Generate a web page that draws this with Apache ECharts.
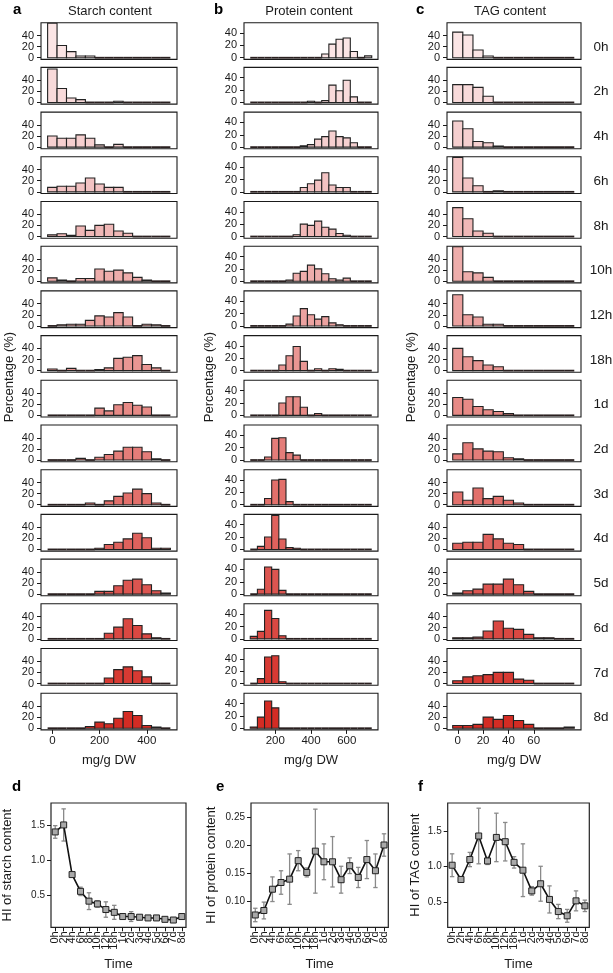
<!DOCTYPE html>
<html><head><meta charset="utf-8">
<script src="https://cdn.jsdelivr.net/npm/echarts@6/dist/echarts.min.js"></script>
<style>html,body{margin:0;padding:0;background:#fff}#c{width:613px;height:973px}</style>
</head><body><div id="c"></div><script>
// ---------- DATA ----------
const timeLabels = ['0h','2h','4h','6h','8h','10h','12h','18h','1d','2d','3d','4d','5d','6d','7d','8d'];
const rowFills = ['#fbe5e5','#f8dada','#f5cfcf','#f3c3c3','#f0b8b7','#eeadab','#eca2a0','#e99693',
                  '#e78a86','#e47d79','#e2706b','#df625d','#dc5550','#da4842','#d73a33','#d42c24'];

const starchBins = [0,40,80,120,160,200,240,280,320,360,400,440,480];
const starchHist = [
 [62,22,11,3,3,0,0,0,0,0,0,0,0],
 [60,25,8,5,0,0,0,2,0,0,0,0,0],
 [20,16,16,22,16,4,1,5,0,0,0,0,0],
 [8,10,10,16,25,14,8,8,0,0,0,0,0],
 [3,5,2,19,11,20,22,10,6,0,0,0,0],
 [6,2,0,5,5,22,18,20,15,7,2,1,1],
 [0,2,3,3,10,18,16,24,16,1,3,2,0],
 [3,0,4,0,0,2,5,22,24,27,11,5,0],
 [0,0,0,0,0,13,8,19,23,18,15,1,0],
 [0,0,0,3,0,5,10,16,23,23,15,2,0],
 [0,0,0,0,3,0,7,15,21,28,20,3,0],
 [0,0,0,0,1,2,9,13,19,29,21,2,2],
 [0,0,0,0,0,5,5,15,25,27,17,6,2],
 [0,0,0,0,0,1,10,21,36,24,9,2,0],
 [0,0,0,0,0,0,10,25,30,23,12,0,0],
 [0,0,0,0,3,11,8,18,30,23,5,2,0]
];

const proteinBins = [80,120,160,200,240,280,320,360,400,440,480,520,560,600,640,680,720];
const proteinHist = [
 [0,0,0,0,0,0,0,0,0,0,6,22,30,32,10,0,3],
 [0,0,0,0,0,0,0,0,2,0,3,28,19,36,9,0,0],
 [0,0,0,0,0,0,0,2,4,13,17,26,17,15,7,0,0],
 [0,0,0,0,0,0,1,7,13,19,31,11,7,7,0,0,0],
 [0,0,0,0,0,0,3,20,18,25,15,12,5,2,0,0,0],
 [0,0,0,0,0,2,13,16,26,20,12,4,2,5,0,0,0],
 [0,0,0,0,0,3,16,28,18,11,15,5,2,0,0,0,0],
 [0,0,0,0,9,24,39,15,1,3,1,3,2,0,0,0,0],
 [0,0,1,1,20,30,30,13,0,3,0,0,0,0,0,0,0],
 [0,1,5,35,36,12,8,0,0,0,0,0,0,0,0,0,0],
 [0,1,10,40,41,5,1,0,0,0,0,0,0,0,0,0,0],
 [0,5,20,55,17,3,2,0,0,0,0,0,0,0,0,0,0],
 [0,8,44,40,6,0,0,0,0,0,0,0,0,0,0,0,0],
 [4,12,46,33,5,0,0,0,0,0,0,0,0,0,0,0,0],
 [1,8,43,45,3,0,0,0,0,0,0,0,0,0,0,0,0],
 [2,18,44,33,1,0,0,0,0,0,0,0,0,0,0,0,0]
];

const tagBins = [0,8,16,24,32,40,48,56,64,72,80,88];
const tagHist = [
 [46,41,14,3,0,0,0,0,0,0,0,0],
 [32,32,27,11,0,0,0,0,0,0,0,0],
 [47,33,10,8,2,0,0,0,0,0,0,0],
 [62,25,11,0,2,0,0,0,0,0,0,0],
 [52,32,10,6,0,0,0,0,0,0,0,0],
 [62,17,15,7,1,0,0,0,0,0,0,0],
 [56,20,16,3,3,0,0,0,0,0,0,0],
 [40,25,18,10,7,0,0,0,0,0,0,0],
 [32,29,16,10,7,3,0,0,0,0,0,0],
 [11,31,20,16,15,4,2,0,0,0,0,0],
 [23,8,30,11,15,8,3,0,0,0,0,0],
 [11,13,13,27,19,11,9,0,0,0,0,0],
 [2,6,9,18,18,27,17,5,0,0,0,0],
 [2,2,3,14,32,19,17,8,2,2,1,0],
 [5,12,14,16,20,20,8,6,0,0,0,0],
 [5,5,7,20,16,23,14,7,0,0,0,2]
];

const starchHI = [1.40,1.50,0.79,0.55,0.41,0.37,0.29,0.25,0.19,0.19,0.18,0.17,0.17,0.15,0.14,0.19];
const starchSD = [0.09,0.23,0.03,0.06,0.12,0.045,0.11,0.10,0.025,0.07,0.02,0.015,0.015,0.015,0.015,0.02];
const proteinHI = [0.075,0.083,0.121,0.133,0.139,0.172,0.151,0.189,0.170,0.170,0.138,0.163,0.142,0.174,0.154,0.200];
const proteinSD = [0.012,0.015,0.022,0.021,0.045,0.018,0.008,0.075,0.032,0.045,0.024,0.014,0.018,0.034,0.030,0.020];
const tagHI = [1.02,0.82,1.10,1.43,1.08,1.41,1.35,1.06,0.95,0.66,0.76,0.54,0.37,0.31,0.52,0.45];
const tagSD = [0.16,0.04,0.10,0.39,0.05,0.34,0.27,0.08,0.37,0.06,0.245,0.19,0.10,0.09,0.14,0.08];

// ---------- LAYOUT / STYLE ----------
const FONT = '"Liberation Sans", Arial, Helvetica, sans-serif';
const INK = '#1a1a1a';
const chart = echarts.init(document.getElementById('c'), null, {renderer:'canvas', width:613, height:973});

const cols = [
  {bins:starchBins, hist:starchHist, binW:40, xmin:-48, xmax:528, ymin:-3, ymax:63, left:41, width:136,
   xticks:[0,200,400], title:'Starch content', titleX:110, letter:'a', letterX:13, pctX:9},
  {bins:proteinBins, hist:proteinHist, binW:40, xmin:25, xmax:775, ymin:-2.7, ymax:56.7, left:244, width:134,
   xticks:[200,400,600], title:'Protein content', titleX:309, letter:'b', letterX:214, pctX:209},
  {bins:tagBins, hist:tagHist, binW:8, xmin:-8.5, xmax:97.3, ymin:-3, ymax:63, left:447, width:134,
   xticks:[0,20,40,60], title:'TAG content', titleX:510, letter:'c', letterX:416, pctX:411}
];
const ROW0 = 22.7, PITCH = 44.7, ROWH = 36.7;

function barRenderer(binW){
  return function(params, api){
    const x = api.value(0), v = api.value(1);
    const a = api.coord([x - binW/2, 0]);
    const b = api.coord([x + binW/2, v]);
    const h = a[1] - b[1];
    if (h < 0.8) {
      return {type:'line', shape:{x1:a[0], y1:a[1], x2:b[0], y2:a[1]},
              style:{stroke:'#2a2020', lineWidth:1.8}};
    }
    return {type:'rect', shape:{x:a[0], y:b[1], width:b[0]-a[0], height:h},
            style:{fill:api.visual('color'), stroke:'#222', lineWidth:1.1}};
  };
}

const grid = [], xAxis = [], yAxis = [], series = [], graphic = [];

cols.forEach((col, ci) => {
  for (let r = 0; r < timeLabels.length; r++) {
    const gi = grid.length;
    const last = r === timeLabels.length - 1;
    grid.push({left: col.left, top: ROW0 + r*PITCH, width: col.width, height: ROWH,
               show: true, borderColor: INK, borderWidth: 1.1, backgroundColor: 'transparent'});
    xAxis.push({type:'value', gridIndex: gi, min: col.xmin, max: col.xmax,
      axisLine:{show:false, onZero:false}, splitLine:{show:false},
      axisTick:{show:last, length:4, customValues: col.xticks, lineStyle:{color:INK, width:1}},
      axisLabel:{show:last, customValues: col.xticks, fontSize:11.5, color:INK, fontFamily:FONT, margin:5},
      name: last ? 'mg/g DW' : '', nameLocation:'middle', nameGap: 24,
      nameTextStyle:{fontSize:13, color:INK, fontFamily:FONT}});
    yAxis.push({type:'value', gridIndex: gi, min: col.ymin, max: col.ymax,
      axisLine:{show:false, onZero:false}, splitLine:{show:false},
      axisTick:{show:true, length:4, customValues:[0,20,40], lineStyle:{color:INK, width:1}},
      axisLabel:{customValues:[0,20,40], fontSize:11, color:INK, fontFamily:FONT, margin:7,
                 hideOverlap:false, showMinLabel:true, showMaxLabel:true}});
    series.push({type:'custom', xAxisIndex: gi, yAxisIndex: gi,
      renderItem: barRenderer(col.binW),
      itemStyle:{color: rowFills[r]},
      data: col.bins.map((b, i) => [b, col.hist[r][i]])});
  }
  graphic.push({type:'text', left: col.letterX, top: 2,
    style:{text: col.letter, font:'bold 15px ' + FONT, fill:'#000'}});
  graphic.push({type:'text', x: col.titleX, y: 11,
    style:{text: col.title, font:'13px ' + FONT, fill:INK, align:'center', verticalAlign:'middle'}});
  graphic.push({type:'text', x: col.pctX, y: 377, rotation: Math.PI/2,
    style:{text:'Percentage (%)', font:'13px ' + FONT, fill:INK, align:'center', verticalAlign:'middle'}});
});

timeLabels.forEach((t, r) => {
  graphic.push({type:'text', x: 601, y: ROW0 + r*PITCH + ROWH/2 + 6,
    style:{text: t, font:'13.5px ' + FONT, fill:INK, align:'center', verticalAlign:'middle'}});
});

// ---------- HI line charts ----------
const hiPanels = [
  {mean:starchHI, sd:starchSD, left:45, width:141, ymin:0.036, ymax:1.814, yticks:[0.5,1.0,1.5], dec:1,
   name:'HI of starch content', nameGap:37, letter:'d', letterX:12},
  {mean:proteinHI, sd:proteinSD, left:251, width:137.3, ymin:0.053, ymax:0.275, yticks:[0.10,0.15,0.20,0.25], dec:2,
   name:'HI of protein content', nameGap:33, letter:'e', letterX:216},
  {mean:tagHI, sd:tagSD, left:447.7, width:141.6, ymin:0.149, ymax:1.893, yticks:[0.5,1.0,1.5], dec:1,
   name:'HI of TAG content', nameGap:26, letter:'f', letterX:418}
];

function errRenderer(params, api){
  const i = api.value(0), m = api.value(1), s = api.value(2);
  const t = api.coord([i, m + s]), b = api.coord([i, m - s]);
  const w = 2.2, st = {stroke:'#8a8a8a', lineWidth:1.3};
  return {type:'group', children:[
    {type:'line', shape:{x1:t[0], y1:t[1], x2:b[0], y2:b[1]}, style:st},
    {type:'line', shape:{x1:t[0]-w, y1:t[1], x2:t[0]+w, y2:t[1]}, style:st},
    {type:'line', shape:{x1:b[0]-w, y1:b[1], x2:b[0]+w, y2:b[1]}, style:st}
  ]};
}

hiPanels.forEach(p => {
  const gi = grid.length;
  grid.push({left:p.left, top:803, width:p.width, height:124.3, show:true, borderColor:'#222', borderWidth:1.2});
  xAxis.push({type:'category', gridIndex:gi, data: timeLabels, boundaryGap:true,
    axisLine:{show:false, onZero:false},
    axisTick:{show:true, length:4, alignWithLabel:true, interval:0, lineStyle:{color:INK, width:1}},
    axisLabel:{interval:0, rotate:90, fontSize:11, color:INK, fontFamily:FONT, margin:4},
    name:'Time', nameLocation:'middle', nameGap:31, nameTextStyle:{fontSize:13, color:INK, fontFamily:FONT}});
  yAxis.push({type:'value', gridIndex:gi, min:p.ymin, max:p.ymax,
    axisLine:{show:false, onZero:false}, splitLine:{show:false},
    axisTick:{show:true, length:4, customValues:p.yticks, lineStyle:{color:INK, width:1}},
    axisLabel:{customValues:p.yticks, fontSize:10, color:INK, fontFamily:FONT, margin:6,
               formatter: v => v.toFixed(p.dec)},
    name:p.name, nameLocation:'middle', nameGap:p.nameGap, nameRotate:90,
    nameTextStyle:{fontSize:13, color:INK, fontFamily:FONT}});
  series.push({type:'custom', xAxisIndex:gi, yAxisIndex:gi, renderItem: errRenderer, z:2,
    data: timeLabels.map((t, i) => [t, p.mean[i], p.sd[i]])});
  series.push({type:'line', xAxisIndex:gi, yAxisIndex:gi, z:3, data: p.mean,
    symbol:'rect', symbolSize:6, showSymbol:true,
    itemStyle:{color:'#a9a9a9', borderColor:'#222', borderWidth:1},
    lineStyle:{color:'#111', width:1.6}});
  graphic.push({type:'text', left:p.letterX, top:779, style:{text:p.letter, font:'bold 15px ' + FONT, fill:'#000'}});
});

chart.setOption({animation:false, backgroundColor:'#fff', grid, xAxis, yAxis, series, graphic});
</script></body></html>
